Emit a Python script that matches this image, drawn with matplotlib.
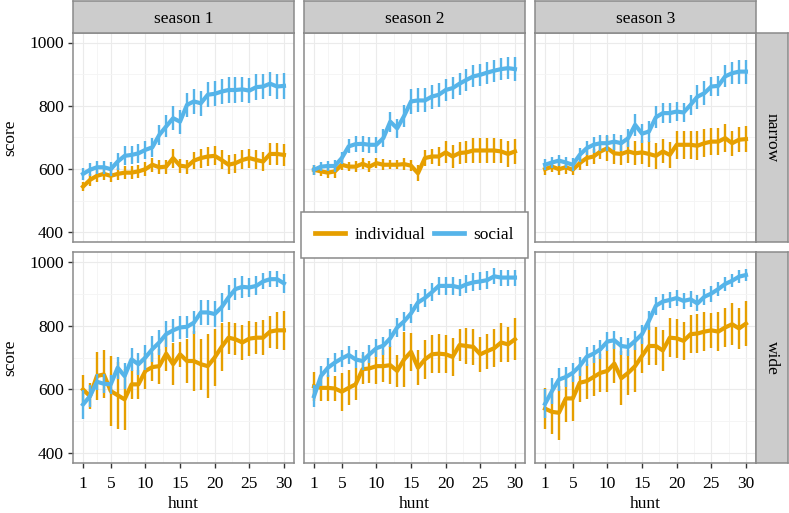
"""
Score by hunt, individual vs social, faceted by season (columns) and
patch width (rows) -- ggplot-style small multiples.
"""

import matplotlib.pyplot as plt
from matplotlib.lines import Line2D

plt.rcParams['font.family'] = ['Liberation Serif', 'DejaVu Serif']
plt.rcParams['font.size'] = 12.5

hunts = list(range(1, 31))
seasons = ['season 1', 'season 2', 'season 3']
widths = ['narrow', 'wide']

# ---- narrow row ----
s1_narrow_ind = [545, 566, 579, 585, 579, 585, 589, 589, 593, 600, 614, 606, 608, 635, 611,
                 608, 627, 635, 640, 642, 629, 614, 619, 629, 635, 629, 624, 648, 648, 645]
s1_narrow_ind_err = [15, 18, 18, 18, 18, 20, 20, 20, 20, 22, 22, 22, 22, 30, 22,
                     22, 28, 30, 30, 30, 30, 30, 30, 30, 30, 30, 30, 35, 35, 35]
s1_narrow_soc = [585, 598, 606, 606, 600, 624, 642, 645, 650, 661, 669, 708, 735, 761, 750,
                 803, 814, 808, 835, 838, 845, 850, 850, 852, 848, 859, 861, 870, 861, 863]
s1_narrow_soc_err = [18, 20, 20, 20, 22, 28, 30, 28, 30, 28, 30, 32, 35, 38, 38,
                     38, 40, 40, 40, 40, 40, 40, 40, 40, 40, 40, 40, 38, 40, 42]

s2_narrow_ind = [598, 593, 589, 593, 614, 608, 608, 617, 608, 619, 614, 614, 614, 616, 611,
                 587, 635, 640, 640, 653, 640, 651, 653, 659, 659, 659, 659, 656, 648, 656]
s2_narrow_ind_err = [15, 15, 18, 20, 18, 15, 18, 18, 18, 15, 18, 15, 15, 18, 18,
                     25, 25, 25, 30, 35, 35, 35, 35, 38, 40, 40, 40, 38, 40, 40]
s2_narrow_soc = [598, 608, 610, 610, 635, 672, 679, 680, 677, 677, 698, 750, 729, 768, 814,
                 817, 817, 829, 835, 850, 856, 870, 882, 893, 898, 905, 911, 916, 919, 916]
s2_narrow_soc_err = [15, 15, 15, 18, 20, 22, 25, 25, 25, 25, 28, 32, 30, 35, 40,
                     38, 38, 38, 38, 35, 35, 35, 35, 35, 35, 35, 35, 35, 35, 38]

s3_narrow_ind = [600, 608, 600, 606, 598, 619, 635, 640, 656, 666, 650, 648, 656, 650, 653,
                 648, 642, 656, 645, 677, 677, 677, 674, 682, 687, 687, 698, 682, 693, 695]
s3_narrow_ind_err = [18, 18, 18, 20, 18, 22, 25, 25, 25, 40, 35, 35, 38, 38, 38,
                     40, 40, 38, 40, 45, 45, 45, 45, 45, 42, 42, 45, 40, 40, 40]
s3_narrow_soc = [614, 621, 627, 621, 614, 645, 666, 677, 682, 682, 687, 682, 698, 740, 712,
                 719, 764, 777, 777, 782, 779, 803, 829, 840, 861, 863, 893, 903, 908, 908]
s3_narrow_soc_err = [18, 18, 18, 18, 20, 22, 22, 25, 25, 25, 25, 25, 28, 35, 30,
                     32, 35, 32, 32, 30, 30, 32, 38, 38, 30, 32, 35, 35, 38, 38]

# ---- wide row ----
s1_wide_ind = [600, 579, 642, 647, 595, 582, 569, 616, 616, 658, 670, 673, 712, 679, 710,
               689, 689, 679, 673, 700, 733, 762, 757, 747, 759, 762, 762, 781, 785, 785]
s1_wide_ind_err = [45, 40, 75, 75, 110, 105, 95, 45, 45, 55, 45, 55, 55, 65, 40,
                   70, 95, 80, 100, 90, 75, 50, 50, 55, 55, 50, 55, 50, 57, 60]
s1_wide_soc = [553, 579, 624, 618, 616, 668, 642, 694, 679, 700, 726, 747, 773, 785, 794,
               796, 809, 841, 841, 836, 857, 888, 914, 921, 919, 924, 938, 945, 945, 932]
s1_wide_soc_err = [45, 35, 25, 30, 30, 35, 40, 35, 35, 40, 40, 40, 40, 35, 35,
                   35, 35, 40, 40, 40, 45, 40, 35, 35, 30, 30, 25, 25, 25, 30]

s2_wide_ind = [610, 605, 605, 603, 593, 605, 616, 663, 666, 673, 673, 676, 658, 694, 718,
               668, 694, 710, 712, 710, 702, 739, 736, 733, 710, 720, 729, 747, 741, 757]
s2_wide_ind_err = [45, 40, 40, 40, 60, 55, 50, 45, 45, 55, 50, 60, 50, 85, 60,
                   55, 60, 60, 60, 60, 60, 50, 55, 55, 55, 55, 60, 60, 55, 65]
s2_wide_soc = [579, 642, 668, 684, 697, 708, 694, 689, 710, 729, 737, 760, 794, 813, 838,
               872, 886, 904, 924, 924, 924, 919, 929, 935, 938, 942, 954, 950, 950, 950]
s2_wide_soc_err = [35, 30, 30, 30, 28, 28, 28, 28, 28, 28, 28, 28, 30, 30, 30,
                   30, 28, 28, 28, 28, 28, 28, 28, 28, 28, 28, 25, 25, 25, 25]

s3_wide_ind = [540, 530, 527, 572, 572, 621, 626, 639, 652, 658, 681, 635, 652, 673, 705,
               736, 736, 722, 762, 760, 752, 773, 775, 781, 785, 781, 794, 804, 791, 806]
s3_wide_ind_err = [65, 70, 85, 75, 70, 60, 55, 60, 60, 65, 60, 85, 70, 80, 55,
                   60, 60, 65, 60, 60, 60, 60, 60, 60, 55, 60, 60, 65, 65, 70]
s3_wide_soc = [555, 595, 631, 639, 652, 673, 702, 712, 726, 750, 754, 736, 733, 752, 773,
               815, 862, 875, 880, 886, 877, 882, 869, 890, 900, 914, 930, 940, 953, 958]
s3_wide_soc_err = [45, 40, 35, 30, 30, 30, 30, 28, 30, 30, 28, 28, 28, 30, 30,
                   30, 28, 25, 25, 25, 25, 25, 25, 25, 25, 22, 22, 20, 20, 20]

panels = {
    ('narrow', 0): (s1_narrow_ind, s1_narrow_ind_err, s1_narrow_soc, s1_narrow_soc_err),
    ('narrow', 1): (s2_narrow_ind, s2_narrow_ind_err, s2_narrow_soc, s2_narrow_soc_err),
    ('narrow', 2): (s3_narrow_ind, s3_narrow_ind_err, s3_narrow_soc, s3_narrow_soc_err),
    ('wide', 0): (s1_wide_ind, s1_wide_ind_err, s1_wide_soc, s1_wide_soc_err),
    ('wide', 1): (s2_wide_ind, s2_wide_ind_err, s2_wide_soc, s2_wide_soc_err),
    ('wide', 2): (s3_wide_ind, s3_wide_ind_err, s3_wide_soc, s3_wide_soc_err),
}

col_ind = '#E69F00'
col_soc = '#56B4E9'
border = '#8a8a8a'
strip_fill = '#cccccc'

W, H = 789, 513
fig = plt.figure(figsize=(W / 100, H / 100), dpi=100)


def px_box(x0, y0, x1, y1):
    # pixel box (top-left origin) -> figure fraction rect
    return [x0 / W, 1 - y1 / H, (x1 - x0) / W, (y1 - y0) / H]


col_x = [(73, 294), (304, 525), (535, 756)]
row_y = [(33, 242), (252, 463)]

for r, wname in enumerate(widths):
    for c in range(3):
        x0, x1 = col_x[c]
        y0, y1 = row_y[r]
        ax = fig.add_axes(px_box(x0, y0, x1, y1))
        ind, ind_err, soc, soc_err = panels[(wname, c)]

        ax.errorbar(hunts, ind, yerr=ind_err, color=col_ind, lw=3.0,
                    elinewidth=1.7, capsize=0, zorder=3)
        ax.errorbar(hunts, soc, yerr=soc_err, color=col_soc, lw=3.0,
                    elinewidth=1.7, capsize=0, zorder=4)

        ax.set_xlim(-0.45, 31.45)
        ax.set_ylim(370, 1030)
        ax.set_xticks([1, 5, 10, 15, 20, 25, 30])
        ax.set_xticks([3, 7.5, 12.5, 17.5, 22.5, 27.5], minor=True)
        ax.set_yticks([400, 600, 800, 1000])
        ax.set_yticks([500, 700, 900], minor=True)
        ax.grid(True, which='major', color='#ebebeb', lw=0.8)
        ax.grid(True, which='minor', color='#f4f4f4', lw=0.6)
        ax.set_axisbelow(True)
        for sp in ax.spines.values():
            sp.set_color(border)
            sp.set_linewidth(1.1)
        ax.tick_params(which='minor', length=0)
        ax.tick_params(which='major', length=3.5, width=1, color='#333333',
                       labelsize=12.5, pad=3, labelcolor='black')
        if c != 0:
            ax.tick_params(axis='y', which='major', length=0, labelleft=False)
        else:
            ax.set_ylabel('score', fontsize=12.5, labelpad=8)
        if r != 1:
            ax.tick_params(axis='x', which='major', length=0, labelbottom=False)
        else:
            ax.tick_params(axis='x', which='major', pad=6)
            ax.set_xlabel('hunt', fontsize=12.5, labelpad=3)

        # column strips on top
        if r == 0:
            sax = fig.add_axes(px_box(x0, 1, x1, y0))
            sax.set_facecolor(strip_fill)
            sax.set_xticks([])
            sax.set_yticks([])
            for sp in sax.spines.values():
                sp.set_color(border)
                sp.set_linewidth(1.1)
            sax.text(0.5, 0.45, seasons[c], ha='center', va='center',
                     fontsize=12.5, transform=sax.transAxes)

    # row strip on the right
    y0, y1 = row_y[r]
    rax = fig.add_axes(px_box(756, y0, 788, y1))
    rax.set_facecolor(strip_fill)
    rax.set_xticks([])
    rax.set_yticks([])
    for sp in rax.spines.values():
        sp.set_color(border)
        sp.set_linewidth(1.1)
    rax.text(0.5, 0.5, wname, ha='center', va='center', rotation=-90,
             fontsize=12.5, transform=rax.transAxes)

# Legend overlapping the middle of the grid
handles = [Line2D([], [], color=col_ind, lw=3.4),
           Line2D([], [], color=col_soc, lw=3.4)]
leg = fig.legend(handles, ['individual', 'social'], loc='center',
                 bbox_to_anchor=(414.5 / W, 1 - 235 / H), ncol=2,
                 frameon=True, fancybox=False, fontsize=12.5,
                 handlelength=1.7, handletextpad=0.55, columnspacing=0.5,
                 borderpad=0.85, borderaxespad=0)
leg.get_frame().set_edgecolor(border)
leg.get_frame().set_linewidth(1.1)
leg.get_frame().set_alpha(1)
leg.set_zorder(10)

plt.savefig('out.png', dpi=100, facecolor='white')
plt.close()
